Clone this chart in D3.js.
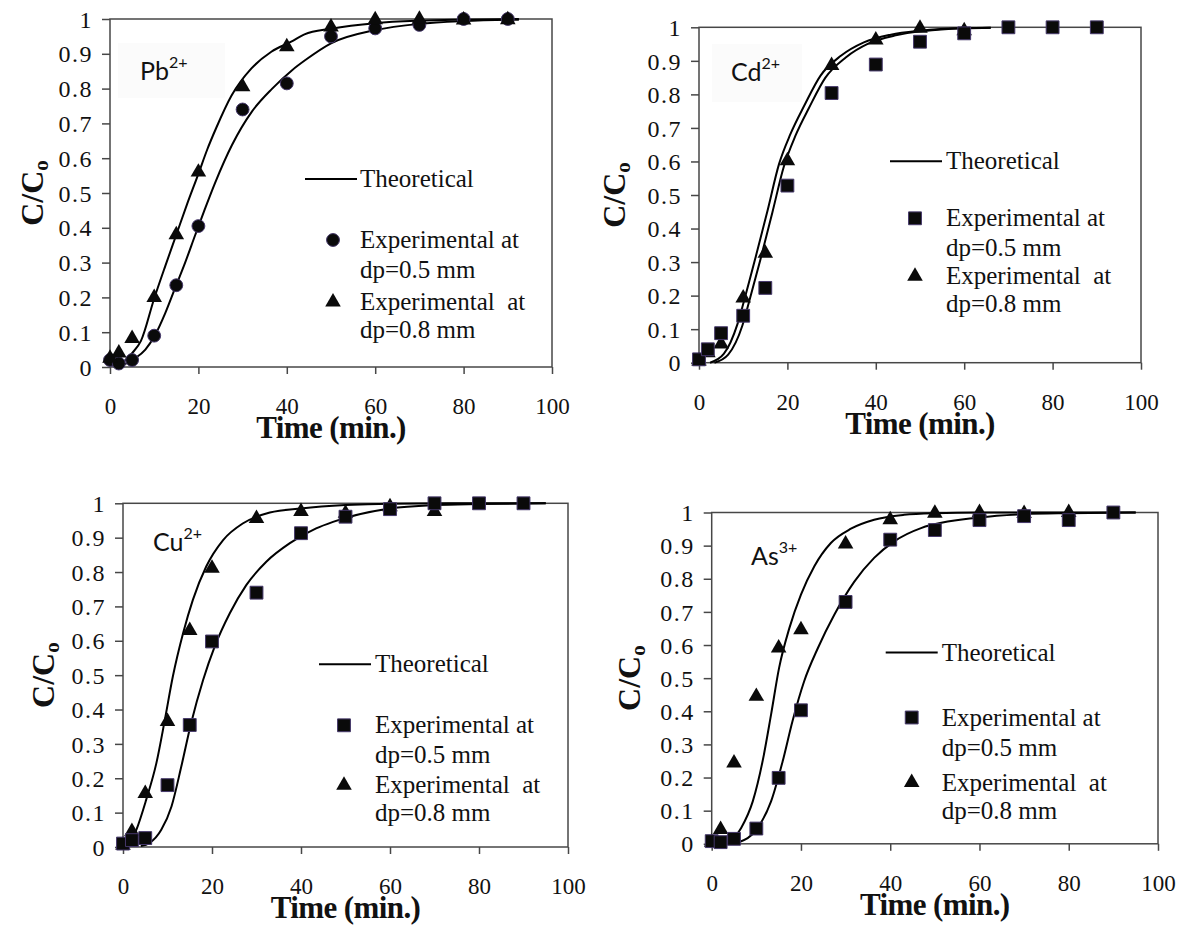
<!DOCTYPE html>
<html>
<head>
<meta charset="utf-8">
<script src="https://cdn.jsdelivr.net/npm/d3@7"></script>
<style>
  body { margin: 0; background: #fff; }
  svg text { font-family: "Liberation Serif", "Times New Roman", serif; fill: #111; }
</style>
</head>
<body>
<svg id="chart" width="1189" height="929"></svg>
<script>
// axis ticks
const xTicks = [0, 20, 40, 60, 80, 100];
const yTicks = [0, 0.1, 0.2, 0.3, 0.4, 0.5, 0.6, 0.7, 0.8, 0.9, 1];
const yTickLabels = ["0", "0.1", "0.2", "0.3", "0.4", "0.5", "0.6", "0.7", "0.8", "0.9", "1"];

// Pb2+
const pbTime05 = [0, 2, 5, 10, 15, 20, 30, 40, 50, 60, 70, 80, 90];
const pbExp05 = [0.02, 0.01, 0.02, 0.09, 0.235, 0.405, 0.74, 0.815, 0.95, 0.973, 0.983, 1.0, 1.0];
const pbTime08 = [0, 2, 5, 10, 15, 20, 30, 40, 50, 60, 70, 80, 90];
const pbExp08 = [0.025, 0.04, 0.082, 0.2, 0.38, 0.56, 0.805, 0.92, 0.977, 0.998, 0.999, 0.997, 0.998];
const pbFitT08 = [1, 3, 5, 7, 10, 12.5, 15, 17.5, 20, 22, 24, 27.5, 32, 36.5, 41, 44, 50, 60, 70, 80, 92.5];
const pbFit08 = [0.005, 0.015, 0.04, 0.075, 0.197, 0.29, 0.38, 0.47, 0.555, 0.625, 0.686, 0.78, 0.858, 0.906, 0.935, 0.956, 0.972, 0.988, 0.995, 0.998, 1.0];
const pbFitT05 = [2, 4, 5.7, 8, 10.2, 12.5, 14.7, 17, 19.3, 21.5, 23.8, 27.6, 32.1, 36.7, 41.2, 44.2, 50, 60, 70, 80, 92.5];
const pbFit05 = [0.003, 0.012, 0.025, 0.05, 0.092, 0.155, 0.226, 0.3, 0.38, 0.455, 0.53, 0.638, 0.734, 0.8, 0.853, 0.882, 0.93, 0.968, 0.986, 0.994, 0.998];

// Cd2+
const cdTime05 = [0, 2, 5, 10, 15, 20, 30, 40, 50, 60, 70, 80, 90];
const cdExp05 = [0.01, 0.04, 0.088, 0.14, 0.223, 0.528, 0.804, 0.889, 0.957, 0.982, 1.0, 1.0, 1.0];
const cdTime08 = [0, 2, 5, 10, 15, 20, 30, 40, 50, 60];
const cdExp08 = [0.005, 0.03, 0.056, 0.193, 0.326, 0.602, 0.886, 0.962, 0.997, 0.99];
const cdFitT08 = [2.5, 5.6, 8.7, 10.2, 12.8, 15.5, 18.1, 20.7, 23.8, 27.5, 32.1, 37.3, 43.4, 50, 60, 66];
const cdFit08 = [0, 0.026, 0.115, 0.185, 0.314, 0.453, 0.592, 0.682, 0.766, 0.856, 0.915, 0.955, 0.978, 0.99, 0.998, 0.999];
const cdFitT05 = [3.5, 6.6, 9.8, 11.3, 13.9, 16.6, 19.2, 21.8, 24.9, 28.6, 33.2, 38.4, 44.5, 51, 60, 66];
const cdFit05 = [0, 0.024, 0.11, 0.18, 0.308, 0.448, 0.585, 0.676, 0.76, 0.85, 0.91, 0.952, 0.976, 0.989, 0.997, 0.999];

// Cu2+
const cuTime05 = [0, 2, 5, 10, 15, 20, 30, 40, 50, 60, 70, 80, 90];
const cuExp05 = [0.01, 0.02, 0.026, 0.18, 0.355, 0.598, 0.74, 0.913, 0.961, 0.983, 1.0, 1.0, 1.0];
const cuTime08 = [0, 2, 5, 10, 15, 20, 30, 40, 50, 60, 70];
const cuExp08 = [0.005, 0.045, 0.156, 0.365, 0.63, 0.811, 0.956, 0.976, 0.971, 0.99, 0.976];
const cuFitT08 = [1, 3, 5.2, 7.5, 9.4, 11.2, 13.5, 15.7, 18.7, 22.5, 27, 33, 40, 50, 60, 80, 95];
const cuFit08 = [0, 0.05, 0.137, 0.244, 0.37, 0.496, 0.622, 0.719, 0.816, 0.893, 0.942, 0.973, 0.985, 0.995, 0.999, 1.0, 1.0];
const cuFitT05 = [4, 6, 8.6, 10.9, 13.1, 15.3, 18, 20.6, 24, 27.7, 32.2, 37.5, 43.4, 47.2, 60, 70, 80, 95];
const cuFit05 = [0.003, 0.012, 0.05, 0.118, 0.234, 0.36, 0.486, 0.583, 0.68, 0.762, 0.83, 0.884, 0.927, 0.946, 0.985, 0.995, 0.998, 1.0];

// As3+
const asTime05 = [0, 2, 5, 10, 15, 20, 30, 40, 50, 60, 70, 80, 90];
const asExp05 = [0.008, 0.005, 0.015, 0.046, 0.199, 0.403, 0.73, 0.918, 0.947, 0.977, 0.989, 0.977, 1.0];
const asTime08 = [0, 2, 5, 10, 15, 20, 30, 40, 50, 60, 70, 80];
const asExp08 = [0.005, 0.043, 0.244, 0.445, 0.591, 0.646, 0.905, 0.978, 0.998, 1.0, 0.997, 1.0];
const asFitT08 = [3.6, 6.6, 9.2, 11.4, 13.3, 15.1, 17.4, 20, 23, 26.7, 31.2, 36.4, 43.1, 50, 60, 95];
const asFit08 = [0, 0.048, 0.128, 0.249, 0.39, 0.531, 0.651, 0.752, 0.838, 0.908, 0.951, 0.978, 0.993, 0.998, 1.0, 1.0];
const asFitT05 = [5.8, 10.3, 13.3, 15.9, 18.1, 20.7, 23.8, 27.5, 32, 36.4, 40.9, 46.9, 60, 70, 80, 95];
const asFit05 = [0.003, 0.048, 0.128, 0.249, 0.37, 0.49, 0.591, 0.692, 0.792, 0.863, 0.913, 0.953, 0.985, 0.995, 0.998, 1.0];

const legendText = ["Theoretical", "Experimental at", "dp=0.5 mm", "Experimental\u2002at", "dp=0.8 mm"];

// layout for each panel (pixels); data comes from the arrays above
const panels = [
  { ion: "Pb", charge: "2+", shape05: d3.symbolCircle, topFirst: false,
    left: 110, right: 552, top: 19, bottom: 367, ylabX: 67,
    ionX: 140, ionY: 80, box: [118, 43, 107, 55],
    leg: { lx: 195, mx: 223, tx: 250, ly: 160, m1: 221, m2: 283 },
    t05: pbTime05, e05: pbExp05, t08: pbTime08, e08: pbExp08,
    ft05: pbFitT05, f05: pbFit05, ft08: pbFitT08, f08: pbFit08 },
  { ion: "Cd", charge: "2+", shape05: d3.symbolSquare, topFirst: true,
    left: 699, right: 1141, top: 27.3, bottom: 362.7, ylabX: 74,
    ionX: 731, ionY: 81, box: [712, 44, 90, 58],
    leg: { lx: 191, mx: 216, tx: 247, ly: 134, m1: 191, m2: 249 },
    t05: cdTime05, e05: cdExp05, t08: cdTime08, e08: cdExp08,
    ft05: cdFitT05, f05: cdFit05, ft08: cdFitT08, f08: cdFit08 },
  { ion: "Cu", charge: "2+", shape05: d3.symbolSquare, topFirst: true,
    left: 123, right: 568, top: 503.3, bottom: 847, ylabX: 69,
    ionX: 153, ionY: 551, box: null,
    leg: { lx: 196, mx: 221, tx: 252, ly: 161, m1: 222, m2: 282 },
    t05: cuTime05, e05: cuExp05, t08: cuTime08, e08: cuExp08,
    ft05: cuFitT05, f05: cuFit05, ft08: cuFitT08, f08: cuFit08 },
  { ion: "As", charge: "3+", shape05: d3.symbolSquare, topFirst: true,
    left: 711.7, right: 1158, top: 512.5, bottom: 843.8, ylabX: 72,
    ionX: 751, ionY: 565, box: null,
    leg: { lx: 174, mx: 200, tx: 230, ly: 140, m1: 205, m2: 270 },
    t05: asTime05, e05: asExp05, t08: asTime08, e08: asExp08,
    ft05: asFitT05, f05: asFit05, ft08: asFitT08, f08: asFit08 }
];

const svg = d3.select("#chart");
svg.append("rect").attr("width", 1189).attr("height", 929).attr("fill", "#fff");

const serif = '"Liberation Serif", "Times New Roman", serif';
const frameColor = "#474747";

function marker(sel, shape, cx, cy) {
  const isTri = shape === d3.symbolTriangle;
  const size = shape === d3.symbolCircle ? 130 : isTri ? 105 : 165;
  sel.append("path")
    .attr("d", d3.symbol().type(shape).size(size)())
    .attr("transform", `translate(${cx},${cy})`)
    .attr("fill", "#0a0a0a")
    .attr("stroke", isTri ? "none" : "#45386a")
    .attr("stroke-width", 1);
}

panels.forEach(p => {
  const x = d3.scaleLinear().domain([0, 100]).range([p.left, p.right]);
  const y = d3.scaleLinear().domain([0, 1]).range([p.bottom, p.top]);
  const g = svg.append("g");

  if (p.box) {
    // very faint box behind the ion label
    g.append("rect").attr("x", p.box[0]).attr("y", p.box[1])
      .attr("width", p.box[2]).attr("height", p.box[3]).attr("fill", "#fbfbfb");
  }

  // x axis
  g.append("g")
    .attr("transform", `translate(0,${p.bottom})`)
    .call(d3.axisBottom(x).tickValues(xTicks).tickSize(7).tickSizeOuter(0).tickFormat(d3.format("d")))
    .attr("font-family", serif).attr("font-size", 23)
    .call(a => a.select(".domain").remove())
    .call(a => a.selectAll("line").attr("stroke", frameColor).attr("stroke-width", 1.5))
    .call(a => a.selectAll("text").attr("y", 47).attr("dy", null).attr("fill", "#111"));

  // y axis
  g.append("g")
    .attr("transform", `translate(${p.left},0)`)
    .call(d3.axisLeft(y).tickValues(yTicks).tickSize(8).tickSizeOuter(0)
      .tickFormat((d, i) => yTickLabels[i]))
    .attr("font-family", serif).attr("font-size", 24)
    .call(a => a.select(".domain").remove())
    .call(a => a.selectAll("line").attr("stroke", frameColor).attr("stroke-width", 1.5))
    .call(a => a.selectAll("text").attr("x", -17).attr("dy", "0.34em")
      .attr("letter-spacing", 1.5).attr("fill", "#111"));

  // plot frame
  g.append("rect")
    .attr("x", p.left).attr("y", p.top)
    .attr("width", p.right - p.left).attr("height", p.bottom - p.top)
    .attr("fill", "none").attr("stroke", frameColor).attr("stroke-width", 1.5);

  // theoretical curves
  const line = d3.line().x(d => x(d[0])).y(d => y(d[1])).curve(d3.curveMonotoneX);
  [[p.ft05, p.f05], [p.ft08, p.f08]].forEach(([t, v]) => {
    g.append("path").datum(d3.zip(t, v)).attr("d", line)
      .attr("fill", "none").attr("stroke", "#000").attr("stroke-width", 2);
  });

  // experimental points
  const s05 = { t: p.t05, v: p.e05, shape: p.shape05 };
  const s08 = { t: p.t08, v: p.e08, shape: d3.symbolTriangle };
  const order = p.topFirst ? [s08, s05] : [s05, s08];
  order.forEach(s => {
    s.t.forEach((t, i) => marker(g, s.shape, x(t), y(s.v[i])));
  });

  // ion label
  const ion = g.append("text").attr("x", p.ionX).attr("y", p.ionY)
    .style("font-family", "Lato, 'Open Sans', sans-serif").attr("font-size", 25);
  ion.append("tspan").text(p.ion);
  ion.append("tspan").attr("dy", -12).attr("font-size", 16).text(p.charge);

  // axis titles
  g.append("text")
    .attr("x", (p.left + p.right) / 2).attr("y", p.bottom + 71)
    .attr("text-anchor", "middle").attr("font-size", 31).attr("font-weight", "bold")
    .attr("letter-spacing", -0.6)
    .text("Time (min.)");

  const yl = g.append("text")
    .attr("transform", `translate(${p.left - p.ylabX},${(p.top + p.bottom) / 2}) rotate(-90)`)
    .attr("text-anchor", "middle").attr("font-size", 32).attr("font-weight", "bold");
  yl.append("tspan").text("C/C");
  yl.append("tspan").attr("dy", 5).attr("font-size", 21).text("o");

  // legend
  const L = p.leg;
  g.append("line")
    .attr("x1", p.left + L.lx).attr("x2", p.left + L.lx + 52)
    .attr("y1", p.top + L.ly).attr("y2", p.top + L.ly)
    .attr("stroke", "#000").attr("stroke-width", 2);
  marker(g, p.shape05, p.left + L.mx, p.top + L.m1);
  marker(g, d3.symbolTriangle, p.left + L.mx, p.top + L.m2);
  const rows = [L.ly, L.m1, L.m1 + 30, L.m2, L.m2 + 28];
  rows.forEach((ry, i) => {
    g.append("text")
      .attr("x", p.left + L.tx).attr("y", p.top + ry + 8)
      .attr("font-size", 25)
      .text(legendText[i]);
  });
});
</script>
</body>
</html>
